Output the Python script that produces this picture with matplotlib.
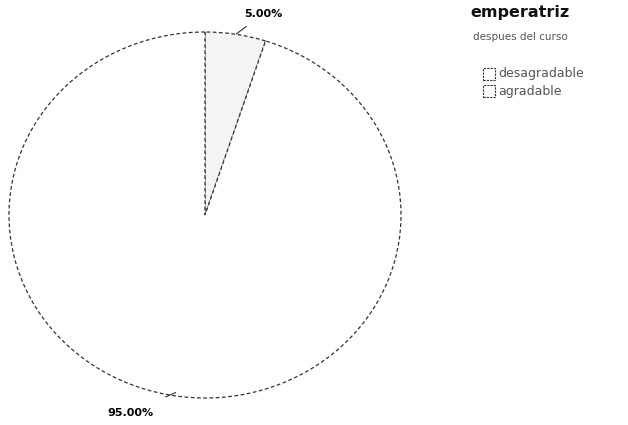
import matplotlib
matplotlib.use("Agg")
import matplotlib.pyplot as plt
from matplotlib.patches import Rectangle

# data
categories = ["desagradable", "agradable"]
shares = [5.0, 95.0]
pct_labels = ["5.00%", "95.00%"]
title = "emperatriz"
subtitle = "despues del curso"

plt.rcParams.update({"font.family": "DejaVu Sans"})

fig = plt.figure(figsize=(6.28, 4.25), dpi=100)

# pie axes: the reference pie is slightly squashed (392 x 366 px)
ax = fig.add_axes([9 / 628, 27 / 425, 392 / 628, 366 / 425])
wedges, _ = ax.pie(
    shares,
    startangle=90,
    counterclock=False,
    colors=["#f4f4f4", "white"],
    wedgeprops={"edgecolor": "#333333", "linewidth": 0.9, "linestyle": (0, (3, 2))},
)
ax.set_xlim(-1.0, 1.0)
ax.set_ylim(-1.0, 1.0)
ax.set_aspect("auto")
ax.axis("off")

# percentage labels outside the pie, with short leader marks
ax.annotate(pct_labels[0], xy=(0.16, 0.99), xytext=(0.30, 1.10),
            fontsize=8, fontweight="bold", ha="center", va="center",
            arrowprops={"arrowstyle": "-", "color": "#333333", "lw": 0.8,
                        "shrinkA": 6, "shrinkB": 0})
ax.annotate(pct_labels[1], xy=(-0.15, -0.97), xytext=(-0.38, -1.08),
            fontsize=8, fontweight="bold", ha="center", va="center",
            arrowprops={"arrowstyle": "-", "color": "#333333", "lw": 0.8,
                        "shrinkA": 14, "shrinkB": 0})

# title block
fig.text(470 / 628, 1 - 13 / 425, title, fontsize=11.5, fontweight="bold",
         ha="left", va="center", color="#111111")
fig.text(473 / 628, 1 - 37 / 425, subtitle, fontsize=7.5,
         ha="left", va="center", color="#555555")

# legend
for i, name in enumerate(categories):
    y = 1 - (74 + 17 * i) / 425
    fig.patches.append(Rectangle((483 / 628, y - 6 / 425), 12 / 628, 12 / 425,
                                 transform=fig.transFigure, facecolor="white",
                                 edgecolor="#333333", linewidth=0.8,
                                 linestyle=(0, (2, 1))))
    fig.text(498 / 628, y, name, fontsize=9, ha="left", va="center",
             color="#555555")

fig.savefig("out.png", dpi=100)
